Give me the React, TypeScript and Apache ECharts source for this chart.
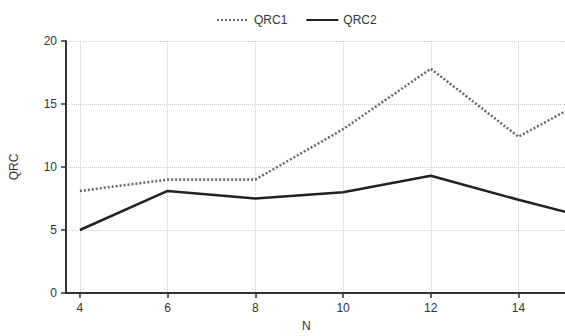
import React, { useEffect, useRef } from "react";
import * as echarts from "echarts";

const nValues = [4, 6, 8, 10, 12, 14, 16];
const qrc1 = [8.1, 9.0, 9.0, 13.0, 17.8, 12.4, 16.2];
const qrc2 = [5.0, 8.1, 7.5, 8.0, 9.3, 7.4, 5.6];
const seriesNames = ["QRC1", "QRC2"];
const xTicks = [4, 6, 8, 10, 12, 14];

export default function App() {
  const ref = useRef<HTMLDivElement>(null);
  useEffect(() => {
    if (!ref.current) return;
    const chart = echarts.init(ref.current, undefined, { renderer: "svg" });
    const font = "Liberation Sans, Arial, sans-serif";
    chart.setOption({
      animation: false,
      textStyle: { fontFamily: font },
      legend: {
        left: 211,
        top: 9,
        itemWidth: 32,
        itemHeight: 10,
        itemGap: 18,
        itemStyle: { opacity: 0 },
        textStyle: { fontSize: 12, color: "#333", fontFamily: font },
        data: seriesNames,
      },
      grid: { left: 63, right: 5, top: 41, bottom: 43 },
      xAxis: {
        type: "value",
        min: 3.683,
        max: 16.2,
        axisLine: { show: true, lineStyle: { color: "#333", width: 2 } },
        axisTick: { show: true, length: 5, customValues: xTicks, lineStyle: { color: "#333", width: 1.5 } },
        axisLabel: { color: "#333", fontSize: 12, margin: 9, fontFamily: font, customValues: xTicks },
        splitLine: { show: true, lineStyle: { color: "#ccc", type: "dotted", width: 1 } },
      },
      yAxis: {
        type: "value",
        min: 0,
        max: 20,
        interval: 5,
        name: "QRC",
        nameLocation: "middle",
        nameGap: 46,
        nameTextStyle: { color: "#333", fontSize: 12, fontFamily: font },
        axisLine: { show: true, lineStyle: { color: "#333", width: 2 } },
        axisTick: { show: true, length: 5, lineStyle: { color: "#333", width: 1.5 } },
        axisLabel: { color: "#333", fontSize: 12, margin: 9, fontFamily: font },
        splitLine: { show: true, lineStyle: { color: "#ccc", type: "dotted", width: 1 } },
      },
      graphic: [
        {
          type: "text",
          left: 302,
          top: 320,
          style: { text: "N", fontSize: 12, fill: "#333", fontFamily: font },
        },
      ],
      series: [
        {
          name: seriesNames[0],
          type: "line",
          symbol: "none",
          data: nValues.map((n, i) => [n, qrc1[i]]),
          lineStyle: { color: "#666", width: 2.5, type: [2, 2] },
          itemStyle: { color: "#666" },
        },
        {
          name: seriesNames[1],
          type: "line",
          symbol: "none",
          data: nValues.map((n, i) => [n, qrc2[i]]),
          lineStyle: { color: "#222", width: 2.5, type: "solid" },
          itemStyle: { color: "#222" },
        },
      ],
    });
    return () => chart.dispose();
  }, []);
  return (
    <div style={{ position: "absolute", left: 0, top: 0, width: 565, height: 336, overflow: "hidden", background: "#fff" }}>
      <div ref={ref} style={{ width: 620, height: 336 }} />
    </div>
  );
}
